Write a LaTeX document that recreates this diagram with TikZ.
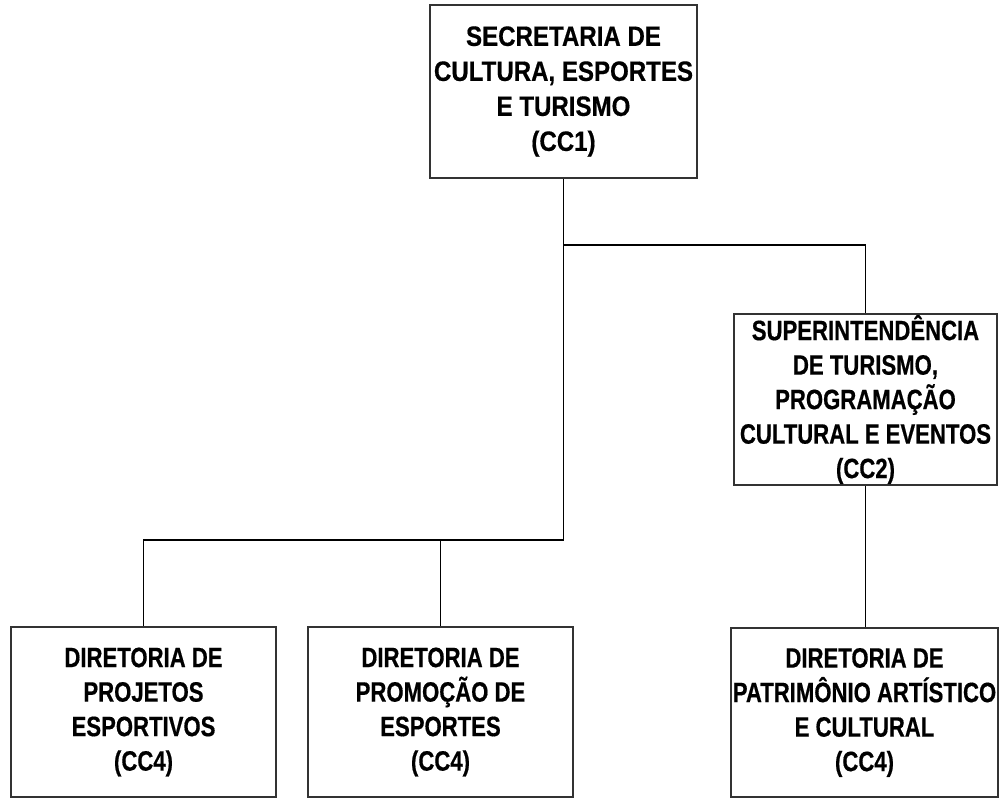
\documentclass[tikz,border=0pt]{standalone}
\usepackage{fontspec}
\newfontfamily\orgfont{Liberation Sans}[UprightFont={* Bold}, FakeStretch=0.79, FakeBold=0.5]
\newfontfamily\orgwidefont{Liberation Sans}[UprightFont={* Bold}, FakeStretch=0.86, FakeBold=0.5]
\usetikzlibrary{positioning}

\tikzset{
    orgbox/.style={draw=black!80, line width=1.5pt, align=center, inner sep=1pt,
        font=\orgfont\fontsize{28}{34.5}\selectfont},
    topbox/.style={orgbox, font=\orgwidefont\fontsize{28}{35}\selectfont},
    orgline/.style={draw=black, line width=1.2pt}
}

\begin{document}
\begin{tikzpicture}[x=1pt, y=-1pt]
        \useasboundingbox (0, 0) rectangle (1005, 798);

        % Secretaria
        \node[topbox, minimum width=267pt, minimum height=173pt] (sec) at (563.5, 91.5)
            {SECRETARIA DE\\CULTURA, ESPORTES\\E TURISMO\\(CC1)};

        % Superintendencia
        \node[orgbox, minimum width=263pt, minimum height=171pt] (sup) at (865.5, 399.5)
            {SUPERINTENDÊNCIA\\DE TURISMO,\\PROGRAMAÇÃO\\CULTURAL E EVENTOS\\(CC2)};

        % Diretorias
        \node[orgbox, minimum width=265pt, minimum height=170pt] (dirproj) at (143.5, 712)
            {DIRETORIA DE\\PROJETOS\\ESPORTIVOS\\(CC4)};
        \node[orgbox, minimum width=265pt, minimum height=170pt] (dirprom) at (440.5, 712)
            {DIRETORIA DE\\PROMOÇÃO DE\\ESPORTES\\(CC4)};
        \node[orgbox, minimum width=267pt, minimum height=169pt] (dirpat) at (864.5, 712.5)
            {DIRETORIA DE\\PATRIMÔNIO ARTÍSTICO\\E CULTURAL\\(CC4)};

        % Connectors
        \coordinate (upper) at (563.5, 245);
        \coordinate (lower) at (563.5, 540);

        \draw[orgline] (sec.south) -- (lower);
        \draw[orgline] (upper) -| (sup.north);
        \draw[orgline] (lower) -| (dirproj.north);
        \draw[orgline] (dirprom.north) -- (dirprom.north |- lower);
        \draw[orgline] (sup.south) -- (sup.south |- dirpat.north);
    \end{tikzpicture}
\end{document}
